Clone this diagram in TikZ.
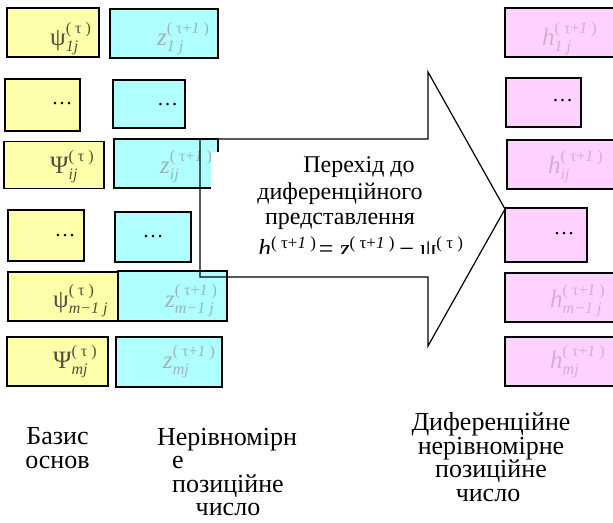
\documentclass[tikz,border=0pt]{standalone}
\usepackage{fontspec}
\setmainfont{Liberation Serif}
\definecolor{yel}{HTML}{FFFFAA}
\definecolor{cya}{HTML}{AFFFFF}
\definecolor{pnk}{HTML}{FFD1FF}
\definecolor{psicol}{HTML}{4F4F3A}
\definecolor{zcol}{HTML}{9DB4B4}
\definecolor{hcol}{HTML}{D2AED2}
\newcommand\mylbl[3]{\fontsize{25}{25}\selectfont #1\rlap{\raisebox{12pt}{\fontsize{16}{16}\selectfont\upshape #2}}\raisebox{-6pt}{\fontsize{16}{16}\selectfont\itshape #3}}
\newcommand\supA{( τ )}
\newcommand\supB{( τ+\textit{1} )}
\tikzset{
  bx/.style={draw=black, line width=1.5pt, inner sep=0pt},
  ybox/.style={bx, fill=yel},
  cbox/.style={bx, fill=cya},
  pbox/.style={bx, fill=pnk},
  lbl/.style={inner sep=0pt, anchor=base west},
  dots/.style={inner sep=0pt, anchor=base, font=\fontsize{21}{21}\selectfont},
  big/.style={inner sep=0pt, anchor=base, font=\fontsize{24}{24}\selectfont},
  caption/.style={inner sep=0pt, anchor=base, align=center, font=\fontsize{26}{23.5}\selectfont},
  arrowline/.style={draw=black, line width=1.2pt, line join=miter}
}
\begin{document}
\begin{tikzpicture}[x=1pt,y=-1pt]
\useasboundingbox (0,0) rectangle (613,522);
\clip (0,0) rectangle (613,522);
% row 1
\node[ybox, minimum width=92, minimum height=49] (y1) at (53,32.5) {};
\node[cbox, minimum width=108, minimum height=49] (c1) at (164,33.5) {};
\node[pbox, minimum width=120, minimum height=49] (p1) at (565,32.5) {};
% row 2
\node[ybox, minimum width=75, minimum height=52] (y2) at (42.5,105) {};
\node[cbox, minimum width=72, minimum height=48] (c2) at (149,104) {};
\node[pbox, minimum width=75, minimum height=49] (p2) at (543.5,102.5) {};
% row 3
\node[ybox, minimum width=100, minimum height=47] (y3) at (54,165) {};
\node[cbox, minimum width=104, minimum height=49] (c3) at (166,163.5) {};
\node[pbox, minimum width=118, minimum height=49] (p3) at (566,164.5) {};
% row 4
\node[ybox, minimum width=76, minimum height=51] (y4) at (46,235.5) {};
\node[cbox, minimum width=76, minimum height=50] (c4) at (153,237) {};
\node[pbox, minimum width=82, minimum height=54] (p4) at (546,235) {};
% row 5
\node[cbox, minimum width=109, minimum height=50] (c5) at (172.5,296) {};
\node[ybox, minimum width=110, minimum height=49] (y5) at (63,296.5) {};
\node[pbox, minimum width=120, minimum height=49] (p5) at (565,297.5) {};
% row 6
\node[ybox, minimum width=101, minimum height=49] (y6) at (57.5,361.5) {};
\node[cbox, minimum width=106, minimum height=50] (c6) at (169,362) {};
\node[pbox, minimum width=120, minimum height=49] (p6) at (565,361.5) {};
% labels
\node[lbl, text=psicol] (ly1) at (50,45) {\mylbl{ψ}{\supA}{1j}};
\node[lbl, text=zcol] (lc1) at (157,45) {\mylbl{\textit{z}}{\supB}{1 j}};
\node[lbl, text=hcol] (lp1) at (542,45) {\mylbl{\textit{h}}{\supB}{1 j}};
\node[lbl, text=psicol] (ly3) at (50,173) {\mylbl{Ψ}{\supA}{ij}};
\node[lbl, text=zcol] (lc3) at (160,173) {\mylbl{\textit{z}}{\supB}{ij}};
\node[lbl, text=hcol] (lp3) at (548,173) {\mylbl{\textit{h}}{\supB}{ij}};
\node[lbl, text=psicol] (ly5) at (53,307) {\mylbl{ψ}{\supA}{m−1 j}};
\node[lbl, text=zcol] (lc5) at (165,307) {\mylbl{\textit{z}}{\supB}{m−1 j}};
\node[lbl, text=hcol] (lp5) at (550,307) {\mylbl{\textit{h}}{\supB}{m−1 j}};
\node[lbl, text=psicol] (ly6) at (53,368) {\mylbl{Ψ}{\supA}{mj}};
\node[lbl, text=zcol] (lc6) at (163,368) {\mylbl{\textit{z}}{\supB}{mj}};
\node[lbl, text=hcol] (lp6) at (550,368) {\mylbl{\textit{h}}{\supB}{mj}};
% dots
\node[dots] (dy2) at (62,104.5) {…};
\node[dots] (dc2) at (167.5,105.5) {…};
\node[dots] (dp2) at (562.5,101.5) {…};
\node[dots] (dy4) at (65,236.5) {…};
\node[dots] (dc4) at (153,237.5) {…};
\node[dots] (dp4) at (564,234.5) {…};
% arrow
\draw[arrowline] (200,139) -- (428,139) -- (428,72) -- (505,209) -- (428,346) -- (428,277) -- (200,277) -- cycle;
% arrow text box
\node[fill=white, inner sep=0pt, minimum width=259, minimum height=101] (tb) at (340.5,202.5) {};
\node[big] (t1) at (359,172) {Перехід до};
\node[big] (t2) at (340,199) {диференційного};
\node[big] (t3) at (340,224) {представлення};
\begin{scope}
\clip (211,152) rectangle (470,253);
\node[inner sep=0pt, anchor=base west] (eq) at (258,257) {\fontsize{26}{26}\selectfont\itshape h\upshape\raisebox{9pt}{\fontsize{17}{17}\selectfont\supB}\hspace{3pt}=\hspace{6pt}\itshape z\upshape\raisebox{9pt}{\fontsize{17}{17}\selectfont\supB}\hspace{5pt}−\hspace{6pt}ψ\raisebox{9pt}{\fontsize{17}{17}\selectfont\supA}};
\end{scope}
% bottom captions (base anchor = last line)
\node[caption] (basis) at (57.5,468) {Базис\\основ};
\node[caption] (nerivn) at (227,515.5) {Нерівномірн\\\hspace*{-98pt}е\\\hspace*{2pt}позиційне\\\hspace*{2pt}число};
\node[caption] (dyfer) at (491,501) {Диференційне\\нерівномірне\\позиційне\\\hspace*{-6pt}число};
\end{tikzpicture}
\end{document}
